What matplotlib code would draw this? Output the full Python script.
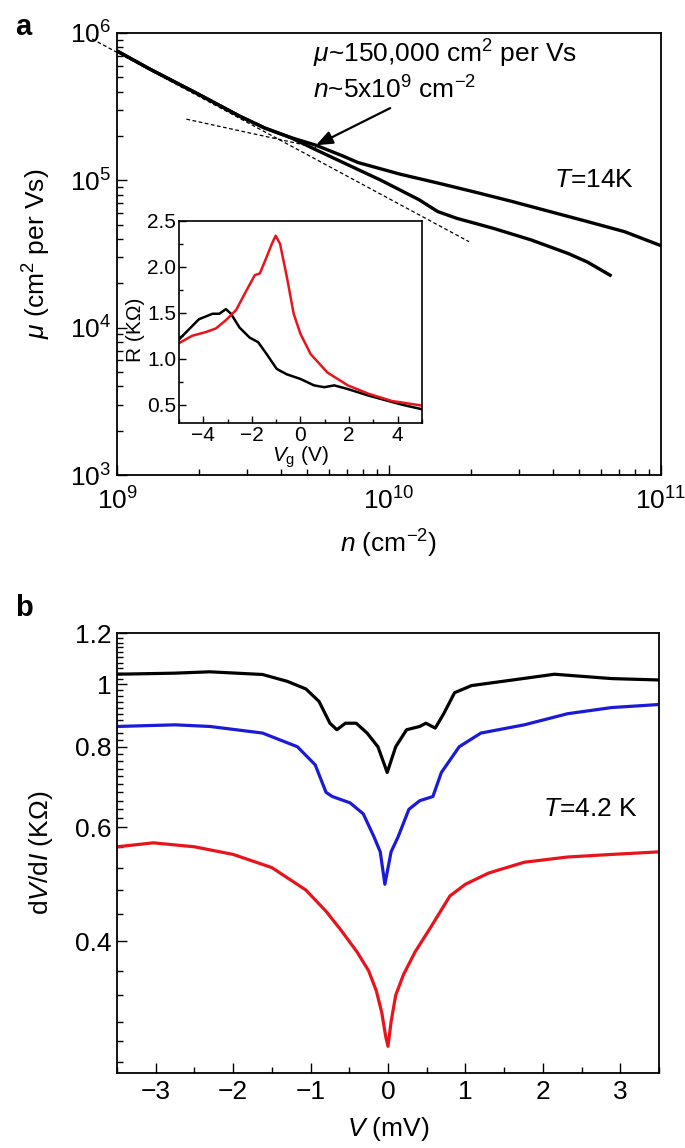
import matplotlib
matplotlib.use("Agg")
import matplotlib.pyplot as plt
from matplotlib.ticker import FixedLocator, FixedFormatter, MultipleLocator, LogLocator, NullFormatter

plt.rcParams["font.family"] = ["Liberation Sans", "DejaVu Sans"]
plt.rcParams["mathtext.fontset"] = "custom"
plt.rcParams["mathtext.rm"] = "Liberation Sans"
plt.rcParams["mathtext.it"] = "Liberation Sans:italic"
plt.rcParams["mathtext.bf"] = "Liberation Sans:bold"

# ---------------- data: panel a (mobility vs density) ----------------
n_upper = [1.0e9, 1.32e9, 2.02e9, 2.83e9, 3.50e9, 4.32e9, 5.39e9, 6.78e9, 7.69e9, 1.10e10,
           1.51e10, 2.07e10, 2.84e10, 3.90e10, 5.36e10, 7.35e10, 1.0e11]
mu_upper = [7.55e5, 5.69e5, 3.79e5, 2.72e5, 2.26e5, 1.96e5, 1.73e5, 1.46e5, 1.32e5, 1.10e5,
            9.59e4, 8.32e4, 7.18e4, 6.14e4, 5.25e4, 4.48e4, 3.60e4]
n_lower = [1.0e9, 1.32e9, 2.02e9, 2.83e9, 3.50e9, 4.32e9, 5.43e9, 6.78e9, 9.35e9,
           1.29e10, 1.51e10, 1.77e10, 2.42e10, 3.33e10, 4.57e10, 5.36e10, 6.58e10]
mu_lower = [7.55e5, 5.69e5, 3.79e5, 2.72e5, 2.26e5, 1.96e5, 1.60e5, 1.32e5, 1.0e5,
            7.38e4, 6.14e4, 5.53e4, 4.72e4, 3.94e4, 3.18e4, 2.79e4, 2.24e4]
n_fit_steep = [8.1e8, 1.97e10]
mu_fit_steep = [9.1e5, 3.83e4]
n_fit_shallow = [1.80e9, 5.4e9]
mu_fit_shallow = [2.60e5, 1.67e5]

# inset: R vs gate voltage
vg_black = [-5.0, -4.18, -3.62, -3.34, -3.07, -2.86, -2.51, -2.09, -1.74, -1.39, -0.98,
            -0.56, 0.0, 0.56, 0.98, 1.39, 1.95, 2.79, 3.48, 4.18, 5.0]
r_black = [1.21, 1.43, 1.49, 1.49, 1.54, 1.49, 1.34, 1.23, 1.18, 1.05, 0.89,
           0.83, 0.78, 0.71, 0.69, 0.71, 0.67, 0.60, 0.55, 0.50, 0.45]
vg_red = [-5.0, -4.46, -3.9, -3.48, -3.07, -2.65, -2.23, -1.88, -1.67, -1.39, -1.18,
          -1.02, -0.84, -0.56, -0.28, 0.0, 0.42, 1.11, 1.95, 2.79, 3.76, 5.0]
r_red = [1.17, 1.25, 1.29, 1.33, 1.42, 1.53, 1.74, 1.91, 1.93, 2.11, 2.25,
         2.34, 2.25, 1.89, 1.49, 1.27, 1.05, 0.85, 0.71, 0.62, 0.54, 0.49]

# ---------------- data: panel b (dV/dI vs V) ----------------
v_black = [-3.5, -2.75, -2.3, -1.62, -1.3, -1.06, -0.89, -0.75, -0.66, -0.55, -0.41, -0.27,
           -0.13, -0.01, 0.10, 0.24, 0.41, 0.49, 0.61, 0.72, 0.86, 1.08, 1.48, 2.15, 2.89, 3.5]
dvdi_black = [1.036, 1.04, 1.045, 1.035, 1.01, 0.983, 0.94, 0.87, 0.85, 0.87, 0.87, 0.84,
              0.80, 0.73, 0.80, 0.85, 0.86, 0.87, 0.855, 0.90, 0.97, 0.995, 1.01, 1.036, 1.02, 1.015]
v_blue = [-3.5, -2.75, -2.3, -1.62, -1.17, -0.94, -0.80, -0.72, -0.49, -0.32, -0.18,
          -0.10, -0.04, 0.04, 0.13, 0.27, 0.41, 0.58, 0.69, 0.92, 1.2, 1.76, 2.32, 2.89, 3.5]
dvdi_blue = [0.86, 0.865, 0.86, 0.84, 0.80, 0.75, 0.68, 0.67, 0.655, 0.63, 0.58,
             0.55, 0.49, 0.55, 0.58, 0.64, 0.66, 0.67, 0.73, 0.80, 0.84, 0.865, 0.90, 0.92, 0.93]
v_red = [-3.5, -3.03, -2.5, -2.0, -1.5, -1.06, -0.8, -0.6, -0.4, -0.25, -0.15, -0.08,
         -0.03, 0.0, 0.04, 0.1, 0.2, 0.35, 0.55, 0.80, 1.0, 1.3, 1.76, 2.32, 2.89, 3.5]
dvdi_red = [0.56, 0.568, 0.56, 0.545, 0.52, 0.48, 0.445, 0.415, 0.385, 0.36, 0.335, 0.31,
            0.285, 0.275, 0.30, 0.33, 0.355, 0.385, 0.42, 0.47, 0.49, 0.51, 0.53, 0.54, 0.545, 0.55]
b_yticks = [0.4, 0.6, 0.8, 1.0, 1.2]
b_yticklabels = ["0.4", "0.6", "0.8", "1", "1.2"]

RED = "#e8141c"
BLUE = "#1a1ad8"
FS = 19

fig = plt.figure(figsize=(6.85, 11.48), dpi=100)

# ================= panel a =================
ax = fig.add_axes([0.1708, 0.5862, 0.7942, 0.3851])
ax.plot(n_upper, mu_upper, color="black", lw=2.4, solid_capstyle="butt", zorder=3)
ax.plot(n_lower, mu_lower, color="black", lw=2.4, solid_capstyle="butt", zorder=3)
ax.plot(n_fit_steep, mu_fit_steep, color="black", lw=0.9, ls=(0, (3, 2)), clip_on=False, zorder=2)
ax.plot(n_fit_shallow, mu_fit_shallow, color="black", lw=0.9, ls=(0, (3, 2)), zorder=2)
ax.set_xscale("log")
ax.set_yscale("log")
ax.set_xlim(1e9, 1e11)
ax.set_ylim(1e3, 1e6)
ax.xaxis.set_minor_locator(LogLocator(base=10, subs=range(2, 10)))
ax.yaxis.set_minor_locator(LogLocator(base=10, subs=range(2, 10)))
ax.xaxis.set_minor_formatter(NullFormatter())
ax.yaxis.set_minor_formatter(NullFormatter())
ax.tick_params(which="both", direction="in", top=False, right=False, labelsize=FS)
ax.tick_params(which="major", length=7, width=1)
ax.tick_params(which="minor", length=4, width=1)
ax.tick_params(axis="x", pad=9)
ax.tick_params(axis="y", pad=4)
for s in ax.spines.values():
    s.set_linewidth(1.3)
ax.set_xlabel(r"$n$ (cm$^{-2}$)", fontsize=FS)
ax.set_ylabel(r"$\mu$ (cm$^2$ per Vs)", fontsize=FS)
ax.xaxis.set_label_coords(0.5, -0.12)
ax.yaxis.set_label_coords(-0.118, 0.5)

ax.text(5.25e9, 7.2e5, r"$\mu$~150,000 cm$^2$ per Vs", fontsize=FS, va="center", ha="left")
ax.text(5.25e9, 4.1e5, r"$n$~5x10$^9$ cm$^{-2}$", fontsize=FS, va="center", ha="left")
ax.annotate("", xy=(5.39e9, 1.73e5), xytext=(1.01e10, 3.09e5),
            arrowprops=dict(arrowstyle="-|>,head_length=1.0,head_width=0.4",
                            color="black", lw=1.6, shrinkA=0, shrinkB=0))
ax.text(4.03e10, 1.0e5, r"$T$=14K", fontsize=FS, va="center", ha="left")
fig.text(0.022, 0.989, "a", fontsize=21, fontweight="bold", va="top", ha="left")

# ---------------- inset ----------------
ins = fig.add_axes([0.2613, 0.6315, 0.3547, 0.1760])
ins.plot(vg_black, r_black, color="black", lw=1.8)
ins.plot(vg_red, r_red, color=RED, lw=1.8)
ins.set_xlim(-5, 5)
ins.set_ylim(0.3, 2.5)
ins.xaxis.set_major_locator(MultipleLocator(2))
ins.xaxis.set_minor_locator(MultipleLocator(1))
ins.yaxis.set_major_locator(FixedLocator([0.5, 1.0, 1.5, 2.0, 2.5]))
ins.yaxis.set_major_formatter(FixedFormatter(["0.5", "1.0", "1.5", "2.0", "2.5"]))
ins.yaxis.set_minor_locator(FixedLocator([0.75, 1.25, 1.75, 2.25]))
ins.tick_params(which="both", direction="in", top=False, right=False, labelsize=15)
ins.tick_params(which="major", length=5, width=1, pad=2)
ins.tick_params(which="minor", length=3, width=1)
for s in ins.spines.values():
    s.set_linewidth(1.2)
ins.set_xlabel(r"$V_{\mathrm{g}}$ (V)", fontsize=15)
ins.set_ylabel("R (KΩ)", fontsize=15)
ins.xaxis.set_label_coords(0.5, -0.105)
ins.yaxis.set_label_coords(-0.14, 0.46)

# ================= panel b =================
bx = fig.add_axes([0.1708, 0.0653, 0.7912, 0.3833])
bx.plot(v_black, dvdi_black, color="black", lw=2.3)
bx.plot(v_blue, dvdi_blue, color=BLUE, lw=2.3)
bx.plot(v_red, dvdi_red, color=RED, lw=2.3)
bx.set_yscale("log")
bx.set_xlim(-3.5, 3.5)
bx.set_ylim(0.25, 1.2)
bx.xaxis.set_major_locator(MultipleLocator(1))
bx.xaxis.set_minor_locator(MultipleLocator(0.5))
bx.yaxis.set_major_locator(FixedLocator(b_yticks))
bx.yaxis.set_major_formatter(FixedFormatter(b_yticklabels))
minor_b = [0.26, 0.28, 0.30, 0.33, 0.36, 0.44, 0.48, 0.52, 0.56] + \
          [round(0.6 + 0.02 * k, 2) for k in range(1, 30) if k % 10 != 0]
bx.yaxis.set_minor_locator(FixedLocator(minor_b))
bx.yaxis.set_minor_formatter(NullFormatter())
bx.tick_params(which="both", direction="in", top=False, right=False, labelsize=FS)
bx.tick_params(which="major", length=7, width=1)
bx.tick_params(which="minor", length=4, width=1)
bx.tick_params(axis="x", pad=5)
bx.tick_params(axis="y", pad=4)
for s in bx.spines.values():
    s.set_linewidth(1.3)
bx.set_xlabel(r"$V$ (mV)", fontsize=FS)
bx.set_ylabel(r"d$V$/d$I$ (KΩ)", fontsize=FS)
bx.xaxis.set_label_coords(0.5, -0.095)
bx.yaxis.set_label_coords(-0.115, 0.5)
bx.text(2.0, 0.64, r"$T$=4.2 K", fontsize=FS, va="center", ha="left")
fig.text(0.022, 0.483, "b", fontsize=21, fontweight="bold", va="top", ha="left")

fig.savefig("out.png", dpi=100)
